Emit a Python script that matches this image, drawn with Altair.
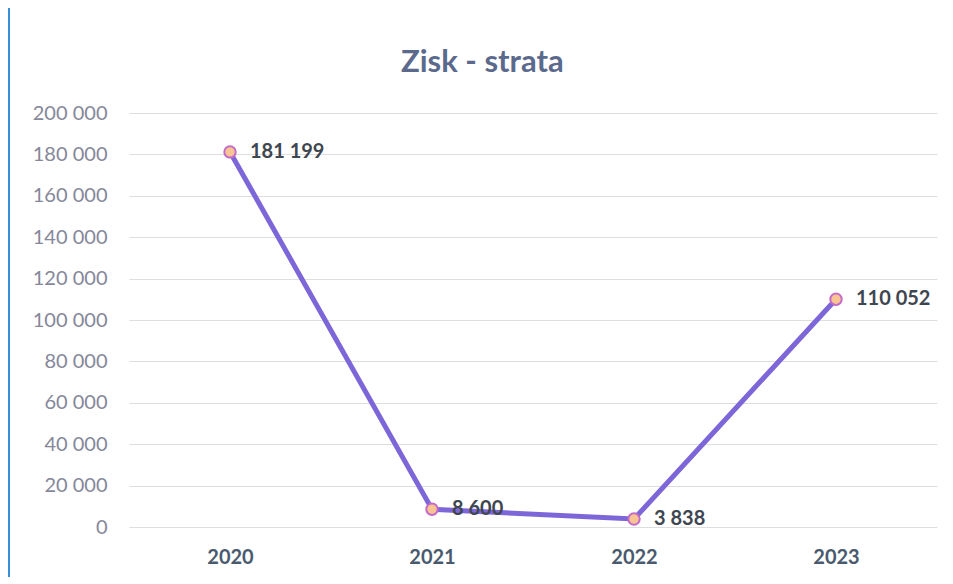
import altair as alt
import pandas as pd

years = ["2020", "2021", "2022", "2023"]
values = [181199, 8600, 3838, 110052]
labels = ["181 199", "8 600", "3 838", "110 052"]

df = pd.DataFrame({"year": years, "value": values, "label": labels})

FONT = "Lato"

x = alt.X("year:N", title=None, sort=years,
          scale=alt.Scale(paddingInner=0, paddingOuter=0.5),
          axis=alt.Axis(labelAngle=0, domain=False, ticks=False, labelPadding=20,
                        labelFontSize=20, labelFont=FONT, labelFontWeight="bold",
                        labelColor="#4a5a6e", grid=False))
y = alt.Y("value:Q", title=None,
          scale=alt.Scale(domain=[0, 200000], nice=False),
          axis=alt.Axis(values=list(range(0, 200001, 20000)), format=",d",
                        domain=False, ticks=False, labelPadding=22,
                        labelFontSize=20, labelFont=FONT, labelColor="#85879a",
                        gridColor="#dedede", gridWidth=1))

base = alt.Chart(df).encode(x=x, y=y)

line = base.mark_line(color="#7d66d8", strokeWidth=5)
points = base.mark_point(filled=True, shape="circle", size=130, fill="#f8c592",
                         stroke="#c46ac8", strokeWidth=2, opacity=1)
text = base.mark_text(align="left", baseline="middle", dx=20, fontSize=20,
                      font=FONT, fontWeight="bold", color="#3e4650").encode(text="label:N")

edge = alt.Chart(df).mark_rule(color="#3a8fd8", strokeWidth=2).encode(
    x=alt.value(-120), y=alt.value(-110), y2=alt.value(480))

chart = alt.layer(edge, line, points, text).properties(
    width=808, height=414,
    title=alt.TitleParams("Zisk - strata", anchor="start", dx=393, offset=-77,
                          fontSize=31, font=FONT, fontWeight="bold", color="#5b6a8c"),
    autosize=alt.AutoSizeParams(type="none"),
    padding={"left": 121, "top": 105, "right": 8, "bottom": 50},
).configure(
    numberFormatType="d3",
    locale={"number": {"decimal": ",", "thousands": " ", "grouping": [3], "currency": ["", " Kč"]}},
).configure_view(stroke=None)

chart.save("out.html", embed_options={"renderer": "svg", "actions": False})
